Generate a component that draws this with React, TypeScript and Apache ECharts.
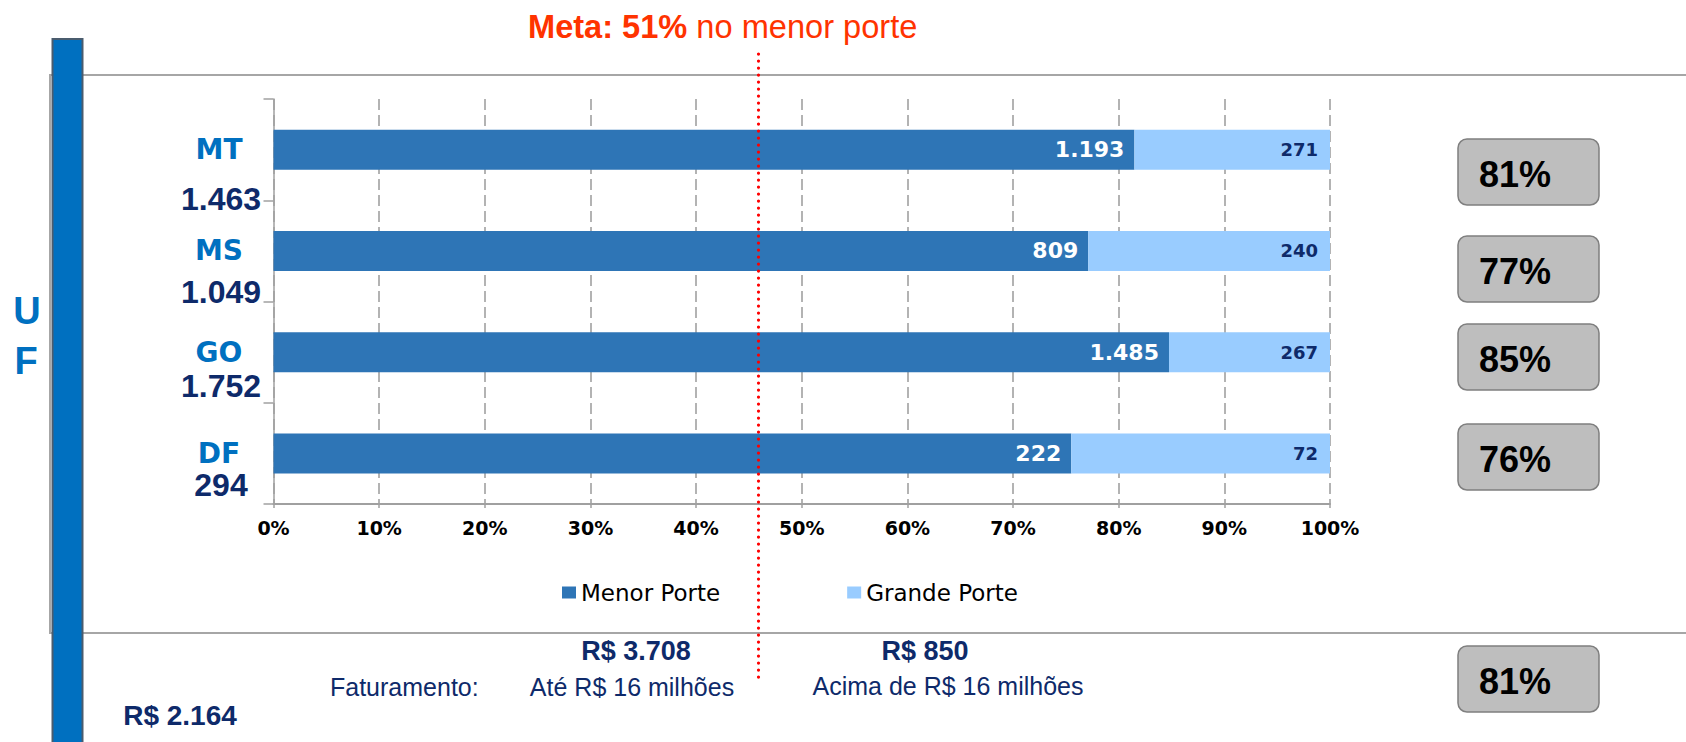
import React, { useEffect, useRef } from "react";
import * as echarts from "echarts";

// ---- data ----
const CATEGORIES = ["MT", "MS", "GO", "DF"];
const MENOR_PORTE = [1193, 809, 1485, 222];
const GRANDE_PORTE = [271, 240, 267, 72];
const TOTALS = [1463, 1049, 1752, 294];
const SHARE_LABELS = ["81%", "77%", "85%", "76%"];
const TOTAL_SHARE_LABEL = "81%";
const X_TICKS = [0, 10, 20, 30, 40, 50, 60, 70, 80, 90, 100];
const META_PCT = 51;
const FAT_MENOR = "R$ 3.708";
const FAT_GRANDE = "R$ 850";
const FAT_TOTAL = "R$ 2.164";
const SERIES_NAMES = ["Menor Porte", "Grande Porte"];

// ---- layout / style (not data) ----
const W = 1686;
const H = 742;
const ARIAL = '"Liberation Sans", Arial, sans-serif';
const VERDANA = '"DejaVu Sans", Verdana, sans-serif';
const NAVY = "#0E2A6A";
const BLUE = "#0070C0";
const DARK_BAR = "#2E75B6";
const LIGHT_BAR = "#99CCFF";
const TOTAL_LABEL_Y = [198.5, 291.7, 386, 485];
const BOX_TOPS = [139, 236, 324, 424, 646];

const fmt = (v: number) => String(v).replace(/\B(?=(\d{3})+(?!\d))/g, ".");

export default function App() {
  const ref = useRef<HTMLDivElement>(null);

  useEffect(() => {
    if (!ref.current) return;
    const chart = echarts.init(ref.current, undefined, { renderer: "svg" });

    const menorPct = MENOR_PORTE.map((m, i) => (m / (m + GRANDE_PORTE[i])) * 100);
    const grandePct = GRANDE_PORTE.map((g, i) => (g / (MENOR_PORTE[i] + g)) * 100);

    const graphics: any[] = [];
    // panel border
    graphics.push({
      type: "rect",
      z: 0,
      shape: { x: 50, y: 75, width: 1700, height: 558 },
      style: { fill: "none", stroke: "#A6A6A6", lineWidth: 2 },
    });
    // left blue bar
    graphics.push({
      type: "rect",
      z: 1,
      shape: { x: 52.5, y: 39, width: 30, height: 720 },
      style: { fill: BLUE, stroke: "#4A5C6E", lineWidth: 2 },
    });
    // U F
    graphics.push({
      type: "text",
      z: 2,
      x: 27,
      y: 311,
      style: { text: "U", fill: BLUE, font: `bold 38px ${ARIAL}`, align: "center", verticalAlign: "middle" },
    });
    graphics.push({
      type: "text",
      z: 2,
      x: 26,
      y: 361,
      style: { text: "F", fill: BLUE, font: `bold 38px ${ARIAL}`, align: "center", verticalAlign: "middle" },
    });
    // totals under category names
    TOTALS.forEach((t, i) => {
      graphics.push({
        type: "text",
        z: 5,
        x: 221,
        y: TOTAL_LABEL_Y[i],
        style: {
          text: fmt(t),
          fill: NAVY,
          font: `bold 32px ${ARIAL}`,
          lineHeight: 26,
          align: "center",
          verticalAlign: "middle",
        },
      });
    });
    // share boxes
    const boxLabels = [...SHARE_LABELS, TOTAL_SHARE_LABEL];
    boxLabels.forEach((lab, i) => {
      graphics.push({
        type: "rect",
        z: 5,
        shape: { x: 1458, y: BOX_TOPS[i], width: 141, height: 66, r: 9 },
        style: { fill: "#BEBEBE", stroke: "#7F7F7F", lineWidth: 1.5 },
      });
      graphics.push({
        type: "text",
        z: 6,
        x: 1479,
        y: BOX_TOPS[i] + 35,
        style: { text: lab, fill: "#000", font: `bold 36px ${ARIAL}`, align: "left", verticalAlign: "middle" },
      });
    });
    // bottom texts
    const bottomTexts: [string, number, number, string, string][] = [
      [FAT_MENOR, 636, 651, `bold 27px ${ARIAL}`, "center"],
      [FAT_GRANDE, 925, 651, `bold 27px ${ARIAL}`, "center"],
      ["Faturamento:", 330, 687, `25px ${ARIAL}`, "left"],
      ["Até R$ 16 milhões", 632, 687, `25px ${ARIAL}`, "center"],
      ["Acima de R$ 16 milhões", 948, 686, `25px ${ARIAL}`, "center"],
      [FAT_TOTAL, 180, 715, `bold 28px ${ARIAL}`, "center"],
    ];
    bottomTexts.forEach(([t, x, y, font, align]) => {
      graphics.push({
        type: "text",
        z: 5,
        x,
        y,
        style: { text: t, fill: NAVY, font, align, verticalAlign: "middle" },
      });
    });
    // meta dotted line
    graphics.push({
      type: "line",
      z: 100,
      shape: { x1: 758.5, y1: 54, x2: 758.5, y2: 681 },
      style: { stroke: "#FF0000", lineWidth: 3.2, lineDash: [0.1, 6.9], lineCap: "round" },
    });

    chart.setOption({
      animation: false,
      backgroundColor: "#fff",
      title: {
        text: `{b|Meta: ${META_PCT}%}{r| no menor porte}`,
        left: 528,
        top: 7,
        padding: 0,
        textStyle: {
          rich: {
            b: { fontFamily: ARIAL, fontWeight: "bold", fontSize: 32.6, color: "#FF3300", lineHeight: 38 },
            r: { fontFamily: ARIAL, fontWeight: "normal", fontSize: 32.6, color: "#FF3300", lineHeight: 38 },
          },
        },
      },
      legend: {
        data: SERIES_NAMES,
        left: 557,
        top: 576,
        itemWidth: 14,
        itemHeight: 12,
        itemGap: 127,
        icon: "rect",
        textStyle: { fontFamily: VERDANA, fontSize: 23, color: "#000" },
        selectedMode: false,
      },
      grid: { left: 273.5, right: 356, top: 99, bottom: 238, containLabel: false },
      xAxis: {
        type: "value",
        min: 0,
        max: 100,
        interval: 10,
        axisLine: { show: true, lineStyle: { color: "#A0A0A0", width: 2 } },
        axisTick: { show: true, length: 4, lineStyle: { color: "#A0A0A0", width: 1.5 } },
        splitLine: { show: true, lineStyle: { color: "#9A9A9A", width: 1.5, type: [11, 5] } },
        axisLabel: {
          margin: 14,
          fontFamily: VERDANA,
          fontWeight: "bold",
          fontSize: 19,
          color: "#000",
          formatter: (v: number) => (X_TICKS.includes(v) ? `${v}%` : ""),
        },
      },
      yAxis: {
        type: "category",
        data: CATEGORIES,
        inverse: true,
        axisLine: { show: true, lineStyle: { color: "#A0A0A0", width: 1.5 } },
        axisTick: { show: true, length: 10, lineStyle: { color: "#A0A0A0", width: 1.5 } },
        splitLine: { show: false },
        axisLabel: {
          margin: 54.5,
          align: "center",
          formatter: (v: string) => `{n|${v}}`,
          rich: {
            n: { fontFamily: VERDANA, fontWeight: "bold", fontSize: 28, lineHeight: 24, color: BLUE },
          },
        },
      },
      series: [
        {
          name: SERIES_NAMES[0],
          type: "bar",
          stack: "total",
          barWidth: 40,
          data: menorPct,
          itemStyle: { color: DARK_BAR },
          label: {
            show: true,
            position: "insideRight",
            distance: 10,
            color: "#fff",
            fontFamily: VERDANA,
            fontWeight: "bold",
            fontSize: 22,
            formatter: (p: any) => fmt(MENOR_PORTE[p.dataIndex]),
          },
        },
        {
          name: SERIES_NAMES[1],
          type: "bar",
          stack: "total",
          barWidth: 40,
          data: grandePct,
          itemStyle: { color: LIGHT_BAR },
          label: {
            show: true,
            position: "insideRight",
            distance: 12,
            color: NAVY,
            fontFamily: VERDANA,
            fontWeight: "bold",
            fontSize: 18,
            formatter: (p: any) => fmt(GRANDE_PORTE[p.dataIndex]),
          },
        },
      ],
      graphic: graphics,
    });

    return () => chart.dispose();
  }, []);

  return (
    <div
      ref={ref}
      style={{ position: "absolute", left: 0, top: 0, width: W, height: H, background: "#fff" }}
    />
  );
}
